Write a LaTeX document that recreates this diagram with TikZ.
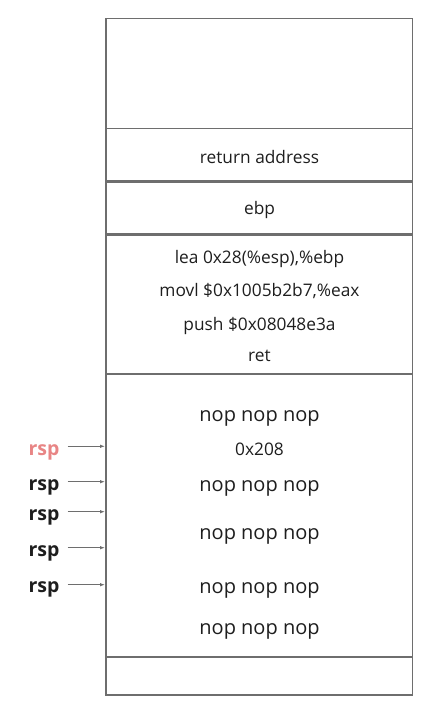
\documentclass[tikz,border=0pt]{standalone}
\usepackage{fontspec}
\setmainfont{Open Sans}
\usetikzlibrary{arrows.meta}
\definecolor{linegray}{HTML}{6E6E6E}
\definecolor{txt}{HTML}{1E1E1E}
\definecolor{rsppink}{HTML}{E88585}
\begin{document}
\begin{tikzpicture}[x=1pt,y=-1pt,
  cell/.style={draw=linegray,line width=1.1pt},
  lbl/.style={text=txt,font=\fontsize{17.3}{20}\selectfont,inner sep=0pt,anchor=center},
  noplbl/.style={text=txt,font=\fontsize{20}{24}\selectfont,inner sep=0pt,anchor=center},
  rsplbl/.style={text=txt,font=\bfseries\fontsize{19.5}{23}\selectfont,inner sep=0pt,anchor=center},
  ptr/.style={draw=linegray,line width=0.9pt,-{Latex[length=5pt,width=3.5pt]}}
]
\useasboundingbox (0,0) rectangle (431,706);
% boxes
\draw[cell] (106,18.7) rectangle (412.5,128.3);
\draw[cell] (106,128.3) rectangle (412.5,180.5);
\draw[cell] (106,182) rectangle (412.5,234);
\draw[cell] (106,235.5) rectangle (412.5,374);
\draw[cell] (106,374) rectangle (412.5,657);
\draw[cell] (106,657) rectangle (412.5,695);
% texts
\node[lbl] (ra) at (259.5,157.5) {return address};
\node[lbl] (ebp) at (259.5,210.5) {ebp};
\node[lbl] (c1) at (259.5,259.2) {lea 0x28(\%esp),\%ebp};
\node[lbl] (c2) at (259.5,291) {movl \$0x1005b2b7,\%eax};
\node[lbl] (c3) at (259.5,326) {push \$0x08048e3a};
\node[lbl] (c4) at (259.5,355.5) {ret};
\node[noplbl] (n1) at (259.5,418.5) {nop nop nop};
\node[lbl] (v1) at (259.5,449) {0x208};
\node[noplbl] (n2) at (259.5,488) {nop nop nop};
\node[noplbl] (n3) at (259.5,536) {nop nop nop};
\node[noplbl] (n4) at (259.5,590.5) {nop nop nop};
\node[noplbl] (n5) at (259.5,631.5) {nop nop nop};
% rsp labels
\node[rsplbl,text=rsppink] (r1) at (44,452) {rsp};
\node[rsplbl] (r2) at (44,487) {rsp};
\node[rsplbl] (r3) at (44,517) {rsp};
\node[rsplbl] (r4) at (44,553) {rsp};
\node[rsplbl] (r5) at (44,589.5) {rsp};
% arrow ends
\coordinate (t1) at (105,446.3);
\coordinate (t2) at (105,481.7);
\coordinate (t3) at (105,511.7);
\coordinate (t4) at (105,547.7);
\coordinate (t5) at (105,584.7);
\coordinate (s1) at (67.7,446.3);
\coordinate (s2) at (67.7,481.7);
\coordinate (s3) at (67.7,511.7);
\coordinate (s4) at (67.7,547.7);
\coordinate (s5) at (67.7,584.7);
\draw[ptr] (s1) -- (t1);
\draw[ptr] (s2) -- (t2);
\draw[ptr] (s3) -- (t3);
\draw[ptr] (s4) -- (t4);
\draw[ptr] (s5) -- (t5);
\end{tikzpicture}
\end{document}
